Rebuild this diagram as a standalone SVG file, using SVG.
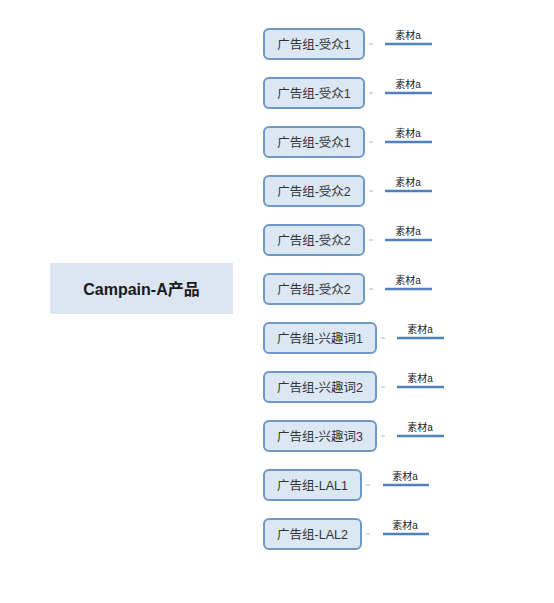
<svg xmlns="http://www.w3.org/2000/svg" width="554" height="603" viewBox="0 0 554 603">
<style>
.bg{fill:#ffffff}
.root rect{fill:#dae5f1}
.root text{font-family:"Liberation Sans","Noto Sans CJK SC",sans-serif;font-size:16px;font-weight:bold;fill:#1a1a1a;text-anchor:middle;dominant-baseline:central}
.node rect{fill:#dce7f4;stroke:#6f97c8;stroke-width:2}
.node text{font-family:"Liberation Sans","Noto Sans CJK SC",sans-serif;font-size:12.5px;fill:#333333;text-anchor:middle;dominant-baseline:central}
.leaf line{stroke:#4f80bd;stroke-width:2.5}
.leaf text{font-family:"Liberation Sans","Noto Sans CJK SC",sans-serif;font-size:10px;fill:#222222;text-anchor:middle}
.conn line{stroke:#b8b8b8;stroke-width:1}
</style>
<rect class="bg" x="0" y="0" width="554" height="603"/>
<g id="root" class="root">
<rect x="50" y="263" width="183" height="51"/>
<text x="141.5" y="289">Campain-A产品</text>
</g>
<g id="connectors" class="conn">
<line x1="369" y1="44" x2="373" y2="44"/>
<line x1="369" y1="93" x2="373" y2="93"/>
<line x1="369" y1="142" x2="373" y2="142"/>
<line x1="369" y1="191" x2="373" y2="191"/>
<line x1="369" y1="240" x2="373" y2="240"/>
<line x1="369" y1="289" x2="373" y2="289"/>
<line x1="381" y1="338" x2="385" y2="338"/>
<line x1="381" y1="387" x2="385" y2="387"/>
<line x1="381" y1="436" x2="385" y2="436"/>
<line x1="366" y1="485" x2="370" y2="485"/>
<line x1="366" y1="534" x2="370" y2="534"/>
</g>
<g id="n1" class="node"><rect x="264" y="29" width="100" height="30" rx="5"/><text x="314" y="44.5">广告组-受众1</text></g>
<g id="n2" class="node"><rect x="264" y="78" width="100" height="30" rx="5"/><text x="314" y="93.5">广告组-受众1</text></g>
<g id="n3" class="node"><rect x="264" y="127" width="100" height="30" rx="5"/><text x="314" y="142.5">广告组-受众1</text></g>
<g id="n4" class="node"><rect x="264" y="176" width="100" height="30" rx="5"/><text x="314" y="191.5">广告组-受众2</text></g>
<g id="n5" class="node"><rect x="264" y="225" width="100" height="30" rx="5"/><text x="314" y="240.5">广告组-受众2</text></g>
<g id="n6" class="node"><rect x="264" y="274" width="100" height="30" rx="5"/><text x="314" y="289.5">广告组-受众2</text></g>
<g id="n7" class="node"><rect x="264" y="323" width="112" height="30" rx="5"/><text x="320" y="338.5">广告组-兴趣词1</text></g>
<g id="n8" class="node"><rect x="264" y="372" width="112" height="30" rx="5"/><text x="320" y="387.5">广告组-兴趣词2</text></g>
<g id="n9" class="node"><rect x="264" y="421" width="112" height="30" rx="5"/><text x="320" y="436.5">广告组-兴趣词3</text></g>
<g id="n10" class="node"><rect x="264" y="470" width="97" height="30" rx="5"/><text x="312.5" y="485.5">广告组-LAL1</text></g>
<g id="n11" class="node"><rect x="264" y="519" width="97" height="30" rx="5"/><text x="312.5" y="534.5">广告组-LAL2</text></g>
<g id="l1" class="leaf"><line x1="385" y1="44" x2="432" y2="44"/><text x="408" y="38.5">素材a</text></g>
<g id="l2" class="leaf"><line x1="385" y1="93" x2="432" y2="93"/><text x="408" y="87.5">素材a</text></g>
<g id="l3" class="leaf"><line x1="385" y1="142" x2="432" y2="142"/><text x="408" y="136.5">素材a</text></g>
<g id="l4" class="leaf"><line x1="385" y1="191" x2="432" y2="191"/><text x="408" y="185.5">素材a</text></g>
<g id="l5" class="leaf"><line x1="385" y1="240" x2="432" y2="240"/><text x="408" y="234.5">素材a</text></g>
<g id="l6" class="leaf"><line x1="385" y1="289" x2="432" y2="289"/><text x="408" y="283.5">素材a</text></g>
<g id="l7" class="leaf"><line x1="397" y1="338" x2="444" y2="338"/><text x="420" y="332.5">素材a</text></g>
<g id="l8" class="leaf"><line x1="397" y1="387" x2="444" y2="387"/><text x="420" y="381.5">素材a</text></g>
<g id="l9" class="leaf"><line x1="397" y1="436" x2="444" y2="436"/><text x="420" y="430.5">素材a</text></g>
<g id="l10" class="leaf"><line x1="383" y1="485" x2="429" y2="485"/><text x="405" y="479.5">素材a</text></g>
<g id="l11" class="leaf"><line x1="383" y1="534" x2="429" y2="534"/><text x="405" y="528.5">素材a</text></g>
</svg>
